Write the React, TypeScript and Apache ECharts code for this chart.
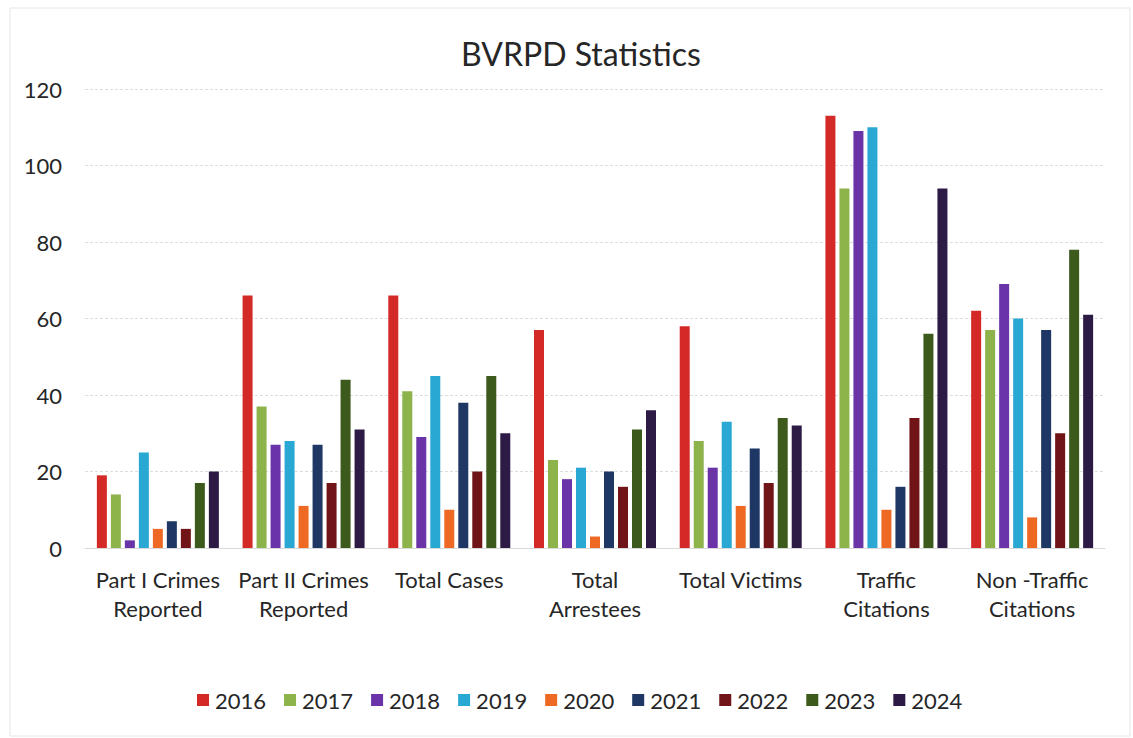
import React, { useEffect, useRef } from "react";
import * as echarts from "echarts";

const categories = [
  "Part I Crimes\nReported",
  "Part II Crimes\nReported",
  "Total Cases",
  "Total\nArrestees",
  "Total Victims",
  "Traffic\nCitations",
  "Non -Traffic\nCitations",
];

const years = ["2016", "2017", "2018", "2019", "2020", "2021", "2022", "2023", "2024"];

const v2016 = [19, 66, 66, 57, 58, 113, 62];
const v2017 = [14, 37, 41, 23, 28, 94, 57];
const v2018 = [2, 27, 29, 18, 21, 109, 69];
const v2019 = [25, 28, 45, 21, 33, 110, 60];
const v2020 = [5, 11, 10, 3, 11, 10, 8];
const v2021 = [7, 27, 38, 20, 26, 16, 57];
const v2022 = [5, 17, 20, 16, 17, 34, 30];
const v2023 = [17, 44, 45, 31, 34, 56, 78];
const v2024 = [20, 31, 30, 36, 32, 94, 61];

const seriesValues = [v2016, v2017, v2018, v2019, v2020, v2021, v2022, v2023, v2024];
const colors = ["#d42a27", "#8db34b", "#6a34a8", "#2aa8d4", "#ee6a24", "#1f3765", "#711417", "#3d5a1d", "#2d1a45"];

const yTicks = [0, 20, 40, 60, 80, 100, 120];

export default function App() {
  const ref = useRef<HTMLDivElement>(null);
  useEffect(() => {
    document.body.style.margin = "0";
    const chart = echarts.init(ref.current!, undefined, { renderer: "svg" });
    const font = "Lato, 'Open Sans', sans-serif";
    chart.setOption({
      animation: false,
      backgroundColor: "#ffffff",
      color: colors,
      title: {
        text: "BVRPD Statistics",
        left: 456,
        top: 32,
        textStyle: { fontFamily: font, fontSize: 32, fontWeight: "normal", color: "#262626" },
      },
      grid: { left: 85, right: 28, top: 89, bottom: 190, containLabel: false },
      legend: {
        bottom: 22,
        left: 192,
        itemWidth: 12,
        itemHeight: 12,
        itemGap: 18,
        icon: "rect",
        textStyle: { fontFamily: font, fontSize: 22, color: "#262626", padding: [0, 0, 0, 1] },
        data: years,
      },
      xAxis: {
        type: "category",
        data: categories,
        axisLine: { lineStyle: { color: "#d9d9d9" } },
        axisTick: { show: false },
        axisLabel: { fontFamily: font, fontSize: 22, color: "#262626", margin: 17, lineHeight: 29, interval: 0 },
      },
      yAxis: {
        type: "value",
        min: yTicks[0],
        max: yTicks[yTicks.length - 1],
        interval: 20,
        axisLine: { show: false },
        axisTick: { show: false },
        axisLabel: { fontFamily: font, fontSize: 22, color: "#262626", margin: 23 },
        splitLine: { lineStyle: { color: "#dcdcdc", type: [3, 2] } },
      },
      series: years.map((y, i) => ({
        name: y,
        type: "bar",
        data: seriesValues[i],
        barWidth: 10,
        barGap: "40%",
        barCategoryGap: "16%",
        itemStyle: { color: colors[i] },
      })),
      graphic: [
        {
          type: "rect",
          shape: { x: 10, y: 8, width: 1120, height: 728 },
          style: { fill: "none", stroke: "#e6e6e6", lineWidth: 1 },
          silent: true,
        },
      ],
    });
    return () => chart.dispose();
  }, []);
  return <div ref={ref} style={{ width: 1133, height: 738 }} />;
}
